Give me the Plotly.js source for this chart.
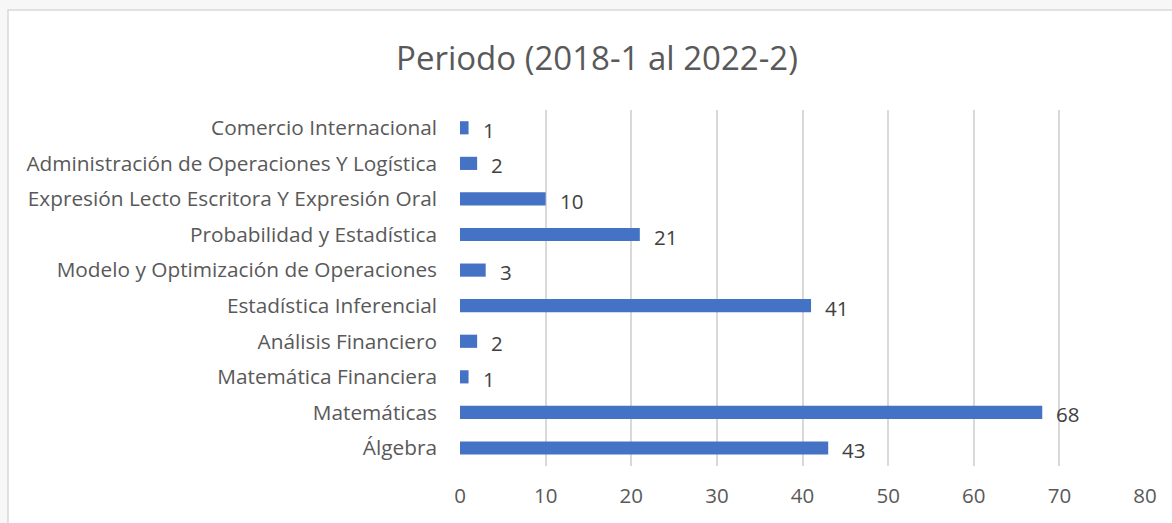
<!DOCTYPE html>
<html>
<head>
<meta charset="utf-8">
<script src="https://cdn.plot.ly/plotly-3.0.1.min.js"></script>
<style>html,body{margin:0;padding:0;background:#f7f7f7;}#chart{width:1172px;height:523px;}</style>
</head>
<body>
<div id="chart"></div>
<script>
// Categories listed bottom to top
const categories = [
  "Álgebra",
  "Matemáticas",
  "Matemática Financiera",
  "Análisis Financiero",
  "Estadística Inferencial",
  "Modelo y Optimización de Operaciones",
  "Probabilidad y Estadística",
  "Expresión Lecto Escritora Y Expresión Oral",
  "Administración de Operaciones Y Logística",
  "Comercio Internacional"
];
const values = [43, 68, 1, 2, 41, 3, 21, 10, 2, 1];
const tickValues = [0, 10, 20, 30, 40, 50, 60, 70, 80];
const titleText = "Periodo (2018-1 al 2022-2)";

const W = 1172, H = 523;
const m = {l: 460, r: 27, t: 110, b: 57};
const pw = W - m.l - m.r, ph = H - m.t - m.b;
const px = p => (p - m.l) / pw;
const py = p => (H - m.b - p) / ph;

const font = "'Open Sans', sans-serif";

const annotations = categories.map((c, i) => ({
  x: values[i], y: c, xref: 'x', yref: 'y',
  text: String(values[i]), showarrow: false,
  xanchor: 'left', xshift: 12, yshift: -2,
  font: {family: font, size: 20.5, color: '#404040'}
}));

const data = [{
  type: 'bar', orientation: 'h',
  x: values, y: categories,
  marker: {color: '#4472c4'},
  hoverinfo: 'x+y'
}];

const layout = {
  width: W, height: H,
  margin: m,
  paper_bgcolor: '#f7f7f7',
  plot_bgcolor: 'rgba(0,0,0,0)',
  bargap: 0.63,
  showlegend: false,
  title: {text: titleText, x: 597 / W, xanchor: 'center', y: 1 - 58 / H, yanchor: 'middle',
          font: {family: font, size: 33, color: '#595959'}},
  xaxis: {
    range: [0, 80], tickvals: tickValues, ticktext: tickValues.map(String),
    showgrid: true, gridcolor: '#d9d9d9', gridwidth: 2,
    zeroline: false, showline: false, ticks: '',
    tickfont: {family: font, size: 20.5, color: '#595959'},
    ticklabelstandoff: 15, fixedrange: true
  },
  yaxis: {
    type: 'category', categoryorder: 'array', categoryarray: categories,
    showgrid: false, zeroline: false, showline: false, ticks: '',
    tickfont: {family: font, size: 20.8, color: '#595959'},
    ticklabelstandoff: 22, fixedrange: true
  },
  annotations: annotations,
  shapes: [{
    type: 'rect', xref: 'paper', yref: 'paper', layer: 'below',
    x0: px(8), x1: px(W + 5), y0: py(H + 10), y1: py(10),
    fillcolor: '#ffffff', line: {color: '#d9d9d9', width: 1.5}
  }]
};

Plotly.newPlot('chart', data, layout, {displayModeBar: false, staticPlot: true});
</script>
</body>
</html>
